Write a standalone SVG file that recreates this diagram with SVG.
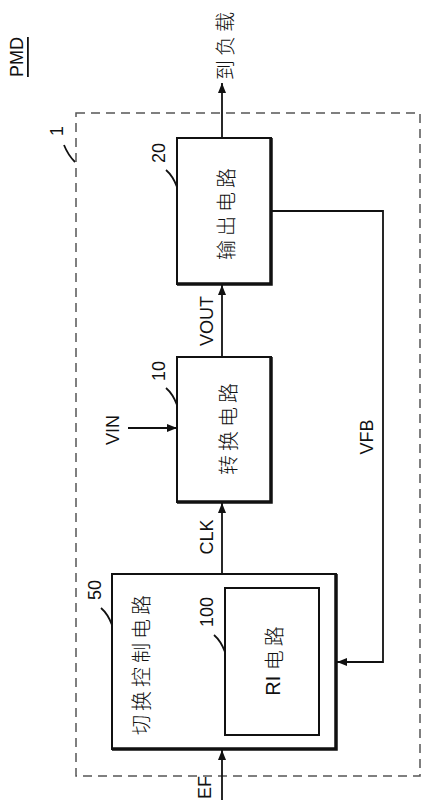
<svg xmlns="http://www.w3.org/2000/svg" width="426" height="800" viewBox="0 0 426 800">
<defs>
<marker id="ah" markerWidth="10" markerHeight="8" refX="10" refY="4" orient="auto" markerUnits="userSpaceOnUse">
<path d="M0,0 L10,4 L0,8 Z" fill="#111"/>
</marker>
<style>
.box{fill:#fff;stroke:#111;stroke-width:2}
.sh{fill:none;stroke:#111;stroke-width:3.5}
.ln{fill:none;stroke:#111;stroke-width:1.8}
.lbl{font-family:"Liberation Sans",Arial,sans-serif;font-size:18px;fill:#111}
.cjk{font-family:"Noto Sans CJK SC","Liberation Sans",sans-serif;font-size:20px;font-weight:300;fill:#111;letter-spacing:4px}
.dash{fill:none;stroke:#555;stroke-width:1.5;stroke-dasharray:9 6}
</style>
</defs>
<rect width="426" height="800" fill="#fff"/>
<text class="lbl" transform="translate(17,57) rotate(-90)" text-anchor="middle" dominant-baseline="central" text-decoration="underline">PMD</text>
<rect id="frame" class="dash" x="76" y="113" width="344" height="663"/>
<g id="label1">
<text class="lbl" transform="translate(57,131) rotate(-90)" text-anchor="middle" dominant-baseline="central">1</text>
<path class="ln" d="M64,145 Q68,155 75,162" stroke-width="1.4"/>
</g>
<g id="connectors">
<line class="ln" x1="222" y1="138" x2="222" y2="83" marker-end="url(#ah)"/>
<line class="ln" x1="222" y1="357" x2="222" y2="285" marker-end="url(#ah)"/>
<line class="ln" x1="222" y1="574" x2="222" y2="503" marker-end="url(#ah)"/>
<line class="ln" x1="222" y1="800" x2="222" y2="750" marker-end="url(#ah)"/>
<line class="ln" x1="128" y1="428" x2="177" y2="428" marker-end="url(#ah)"/>
<polyline class="ln" points="271,211 383,211 383,662 337,662" marker-end="url(#ah)"/>
</g>
<g id="load">
<text class="cjk" transform="translate(224,44) rotate(-90)" text-anchor="middle" dominant-baseline="central" font-size="19">到负载</text>
</g>
<g id="n20">
<rect class="box" x="177" y="138" width="94" height="146"/>
<polyline class="sh" points="271,138 271,284 177,284"/>
<text class="cjk" transform="translate(225,212) rotate(-90)" text-anchor="middle" dominant-baseline="central">输出电路</text>
<text class="lbl" transform="translate(159,153) rotate(-90)" text-anchor="middle" dominant-baseline="central">20</text>
<path class="ln" d="M166,170 Q173,176 177,187" stroke-width="1.4"/>
</g>
<g id="n10">
<rect class="box" x="177" y="357" width="94" height="145"/>
<polyline class="sh" points="271,357 271,502 177,502"/>
<text class="cjk" transform="translate(227,427) rotate(-90)" text-anchor="middle" dominant-baseline="central">转换电路</text>
<text class="lbl" transform="translate(159,371) rotate(-90)" text-anchor="middle" dominant-baseline="central">10</text>
<path class="ln" d="M166,388 Q173,394 177,405" stroke-width="1.4"/>
</g>
<g id="n50">
<rect class="box" x="112" y="574" width="224" height="175"/>
<polyline class="sh" points="336,574 336,749 112,749"/>
<text class="cjk" transform="translate(140,663) rotate(-90)" text-anchor="middle" dominant-baseline="central" font-size="21" letter-spacing="3">切换控制电路</text>
<text class="lbl" transform="translate(95,590) rotate(-90)" text-anchor="middle" dominant-baseline="central">50</text>
<path class="ln" d="M101,608 Q108,614 112,625" stroke-width="1.4"/>
</g>
<g id="n100">
<rect class="box" x="225" y="588" width="94" height="147"/>
<line class="ln" x1="319" y1="588" x2="319" y2="735" stroke-width="3"/>
<text class="cjk" transform="translate(273,659) rotate(-90)" text-anchor="middle" dominant-baseline="central" letter-spacing="2"><tspan font-family="Liberation Sans, sans-serif" font-weight="400" letter-spacing="0">RI </tspan>电路</text>
<text class="lbl" transform="translate(207,612) rotate(-90)" text-anchor="middle" dominant-baseline="central">100</text>
<path class="ln" d="M214,635 Q221,641 225,652" stroke-width="1.4"/>
</g>
<g id="signals">
<text class="lbl" transform="translate(207,321) rotate(-90)" text-anchor="middle" dominant-baseline="central">VOUT</text>
<text class="lbl" transform="translate(113,430) rotate(-90)" text-anchor="middle" dominant-baseline="central">VIN</text>
<text class="lbl" transform="translate(367,437) rotate(-90)" text-anchor="middle" dominant-baseline="central">VFB</text>
<text class="lbl" transform="translate(207,537) rotate(-90)" text-anchor="middle" dominant-baseline="central">CLK</text>
<text class="lbl" transform="translate(205,799) rotate(-90)" text-anchor="start" dominant-baseline="central">EF</text>
</g>
</svg>
